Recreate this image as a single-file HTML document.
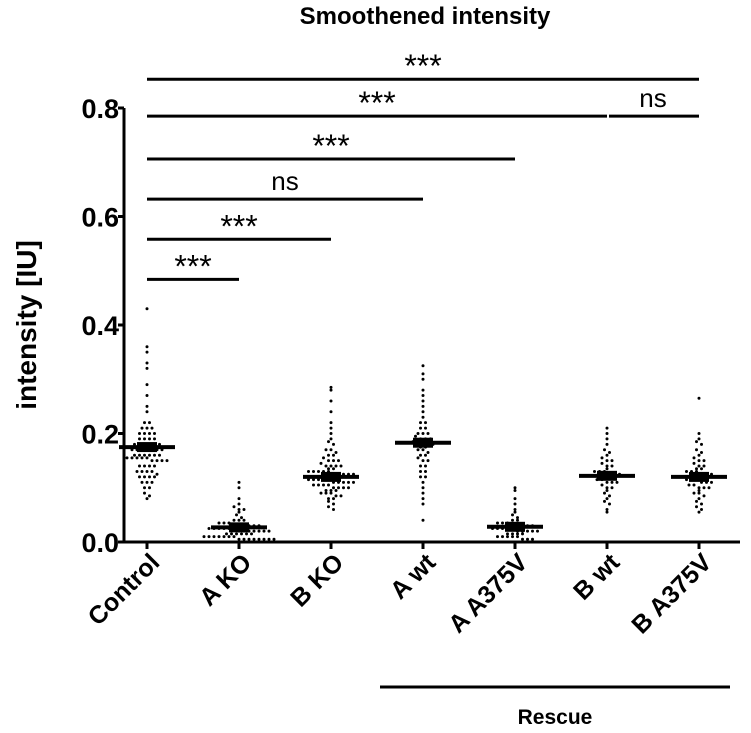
<!DOCTYPE html>
<html><head><meta charset="utf-8"><style>
body{margin:0;background:#fff}
svg text{font-family:"Liberation Sans",Arial,sans-serif;fill:#000}
</style></head><body>
<svg id="chart" width="751" height="728" viewBox="0 0 751 728">
<text x="425" y="24" text-anchor="middle" font-size="24" font-weight="bold">Smoothened intensity</text>
<text transform="translate(36,325) rotate(-90)" text-anchor="middle" font-size="28" font-weight="bold">intensity [IU]</text>
<g id="axes"></g><g id="dots"></g><g id="sig"></g>
<line x1="380" y1="687" x2="730" y2="687" stroke="#000" stroke-width="3"/>
<text x="555" y="724" text-anchor="middle" font-size="21" font-weight="bold">Rescue</text>
</svg>
<script>
const categories=["Control","A KO","B KO","A wt","A A375V","B wt","B A375V"];
const medians=[0.175,0.027,0.12,0.183,0.028,0.122,0.12];
const yTicks=[0,0.2,0.4,0.6,0.8];
const yTickLabels=["0.0","0.2","0.4","0.6","0.8"];
const sControl=[0.43,0.36,0.35,0.33,0.32,0.29,0.27,0.25,0.24,0.22,0.22,0.21,0.21,0.21,0.2,0.2,0.2,0.2,0.19,0.19,0.19,0.19,0.18,0.18,0.18,0.18,0.18,0.18,0.17,0.17,0.17,0.17,0.17,0.17,0.17,0.16,0.16,0.16,0.16,0.16,0.16,0.155,0.155,0.155,0.155,0.155,0.15,0.15,0.15,0.15,0.14,0.14,0.14,0.14,0.13,0.13,0.13,0.13,0.125,0.12,0.12,0.12,0.12,0.11,0.11,0.11,0.1,0.1,0.09,0.085,0.08];
const sAKO=[0.11,0.1,0.08,0.07,0.065,0.06,0.06,0.055,0.05,0.045,0.04,0.04,0.04,0.035,0.035,0.035,0.03,0.03,0.03,0.03,0.03,0.03,0.025,0.025,0.025,0.025,0.025,0.025,0.02,0.02,0.02,0.02,0.02,0.02,0.02,0.015,0.015,0.015,0.015,0.015,0.015,0.01,0.01,0.01,0.01,0.01,0.01,0.01,0.005,0.005,0.005,0.005,0.005,0.005,0.005,0.005];
const sBKO=[0.285,0.28,0.26,0.24,0.22,0.21,0.2,0.19,0.185,0.18,0.17,0.17,0.165,0.16,0.16,0.155,0.15,0.15,0.15,0.145,0.14,0.14,0.14,0.14,0.135,0.135,0.13,0.13,0.13,0.13,0.13,0.125,0.125,0.125,0.125,0.125,0.12,0.12,0.12,0.12,0.12,0.12,0.115,0.115,0.115,0.115,0.115,0.11,0.11,0.11,0.11,0.11,0.105,0.105,0.105,0.105,0.1,0.1,0.1,0.1,0.095,0.095,0.095,0.09,0.09,0.09,0.085,0.085,0.08,0.08,0.075,0.07,0.065,0.06];
const sAwt=[0.325,0.31,0.3,0.28,0.27,0.26,0.25,0.24,0.23,0.22,0.22,0.21,0.21,0.2,0.2,0.2,0.195,0.19,0.19,0.19,0.185,0.185,0.18,0.18,0.18,0.175,0.175,0.17,0.17,0.165,0.16,0.16,0.155,0.15,0.15,0.14,0.14,0.13,0.13,0.12,0.12,0.11,0.1,0.09,0.08,0.07,0.04];
const sAA=[0.1,0.095,0.08,0.07,0.06,0.055,0.05,0.045,0.04,0.04,0.035,0.035,0.035,0.03,0.03,0.03,0.03,0.03,0.025,0.025,0.025,0.025,0.025,0.02,0.02,0.02,0.02,0.02,0.015,0.015,0.015,0.015,0.01,0.01,0.01,0.01,0.01,0.005,0.005,0.005];
const sBwt=[0.21,0.2,0.19,0.18,0.17,0.165,0.16,0.155,0.15,0.15,0.145,0.14,0.14,0.135,0.13,0.13,0.13,0.125,0.125,0.125,0.12,0.12,0.12,0.12,0.115,0.115,0.11,0.11,0.11,0.105,0.1,0.1,0.095,0.09,0.085,0.08,0.075,0.07,0.06,0.055];
const sBA=[0.265,0.2,0.19,0.185,0.18,0.17,0.165,0.16,0.155,0.15,0.15,0.145,0.14,0.14,0.135,0.135,0.13,0.13,0.13,0.125,0.125,0.125,0.12,0.12,0.12,0.12,0.115,0.115,0.115,0.11,0.11,0.11,0.105,0.105,0.1,0.1,0.1,0.095,0.09,0.09,0.085,0.08,0.075,0.07,0.065,0.06,0.055];
const series=[sControl,sAKO,sBKO,sAwt,sAA,sBwt,sBA];
const sigFrom=[0,0,0,0,0,5,0];
const sigTo=[1,2,3,4,5,6,6];
const sigY=[0.484,0.558,0.632,0.706,0.785,0.785,0.853];
const sigLabels=["***","***","ns","***","***","ns","***"];

const NS="http://www.w3.org/2000/svg";
const x0=124,x1=740,y0=542,yScale=542.5;
function X(i){return 147+i*92;}
function Y(v){return y0-v*yScale;}
function mk(tag,at,parent,txt){const e=document.createElementNS(NS,tag);for(const k in at)e.setAttribute(k,at[k]);if(txt!=null)e.textContent=txt;parent.appendChild(e);return e;}
const axes=document.getElementById('axes'),dots=document.getElementById('dots'),sig=document.getElementById('sig');
let e=mk('line',{x1:x0,y1:Y(0),x2:x0,y2:Y(0.8),stroke:'#000','stroke-width':3},axes);


e=mk('line',{x1:x0-2,y1:y0,x2:x1,y2:y0,stroke:'#000','stroke-width':3},axes);


yTicks.forEach((t,i)=>{
  e=mk('line',{x1:x0-6,y1:Y(t),x2:x0,y2:Y(t),stroke:'#000','stroke-width':3},axes);
  
  
  e=mk('text',{x:x0-5,y:Y(t)+10,'text-anchor':'end','font-size':27,'font-weight':'bold'},axes,yTickLabels[i]);
  
  
});
categories.forEach((c,i)=>{
  e=mk('line',{x1:X(i),y1:y0,x2:X(i),y2:y0+7,stroke:'#000','stroke-width':3},axes);
  
  
  e=mk('text',{transform:`translate(${X(i)+14},${y0+22}) rotate(-45)`,'text-anchor':'end','font-size':25,'font-weight':'bold'},axes,c);
  
  
});
series.forEach((vals,i)=>{
  const bins={};
  vals.forEach(v=>{const b=Math.round(v/0.008);(bins[b]=bins[b]||[]).push(v);});
  for(const b in bins){const arr=bins[b];arr.forEach((v,k)=>{
    const off=(k-(arr.length-1)/2)*5;
    e=mk('circle',{cx:X(i)+off,cy:Y(v),r:1.5,fill:'#000'},dots);
    
    
  });}
  e=mk('line',{x1:X(i)-28,y1:Y(medians[i]),x2:X(i)+28,y2:Y(medians[i]),stroke:'#000','stroke-width':4},dots);
  
  
  e=mk('rect',{x:X(i)-10,y:Y(medians[i])-5,width:20,height:10,fill:'#000'},dots);
  
  
});
sigY.forEach((v,i)=>{
  const a=X(sigFrom[i]),b=X(sigTo[i]);
  e=mk('line',{x1:a+(sigFrom[i]?2:0),y1:Y(v),x2:b,y2:Y(v),stroke:'#000','stroke-width':3},sig);
  
  
  const isStar=sigLabels[i]==='***';
  e=mk('text',{x:(a+b)/2,y:Y(v)-(isStar?2:9),'text-anchor':'middle','font-size':isStar?32:26},sig,sigLabels[i]);
  
  
});
</script>
</body></html>
